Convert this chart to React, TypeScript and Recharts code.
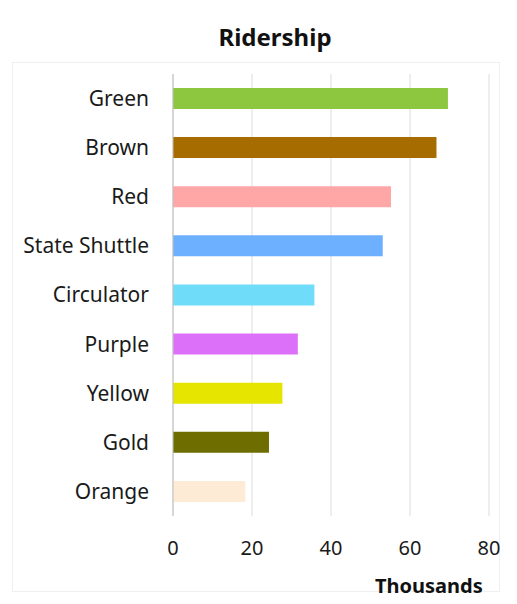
import { Bar, BarChart, CartesianGrid, Cell, XAxis, YAxis } from "recharts";

const routes = ["Green", "Brown", "Red", "State Shuttle", "Circulator", "Purple", "Yellow", "Gold", "Orange"];
const riders = [69.6, 66.7, 55.2, 53.1, 35.8, 31.6, 27.7, 24.3, 18.3];
const barColors = ["#8dc63f", "#a66c00", "#ffa6a6", "#6cb0ff", "#6fdcf9", "#dd70f8", "#e5e500", "#6e6e00", "#fdebd5"];
const xTicks = [0, 20, 40, 60, 80];

const data = routes.map((route, i) => ({ route, riders: riders[i] }));

const font = "'Noto Sans', 'Open Sans', sans-serif";

export default function App() {
  return (
    <div style={{ position: "relative", width: 517, height: 604, margin: -8, background: "#fff", fontFamily: font }}>
      <div
        style={{
          position: "absolute",
          left: 12,
          top: 62,
          width: 488,
          height: 530,
          border: "1px solid #efefef",
          boxSizing: "border-box",
        }}
      />
      <div
        style={{
          position: "absolute",
          top: 20,
          left: 0,
          width: 550,
          textAlign: "center",
          fontSize: 24,
          fontWeight: 700,
          color: "#111",
        }}
      >
        Ridership
      </div>
      <BarChart
        width={517}
        height={604}
        data={data}
        layout="vertical"
        margin={{ top: 74, right: 28, bottom: 58, left: 0 }}
        barSize={21}
        style={{ position: "absolute", left: 0, top: 0 }}
      >
        <CartesianGrid horizontal={false} stroke="#dcdcdc" />
        <XAxis
          type="number"
          domain={[0, 80]}
          ticks={xTicks}
          axisLine={false}
          tickLine={false}
          tickMargin={19}
          tick={{ fill: "#1a1a1a", fontSize: 20, fontFamily: font }}
        />
        <YAxis
          type="category"
          dataKey="route"
          width={173}
          axisLine={{ stroke: "#bfbfbf" }}
          tickLine={false}
          tickSize={0}
          tickMargin={24}
          tick={{ fill: "#1a1a1a", fontSize: 21, fontFamily: font }}
        />
        <Bar dataKey="riders" isAnimationActive={false}>
          {data.map((d, i) => (
            <Cell key={d.route} fill={barColors[i]} />
          ))}
        </Bar>
      </BarChart>
      <div
        style={{
          position: "absolute",
          top: 572,
          left: 375,
          fontSize: 20,
          fontWeight: 700,
          color: "#111",
        }}
      >
        Thousands
      </div>
    </div>
  );
}
